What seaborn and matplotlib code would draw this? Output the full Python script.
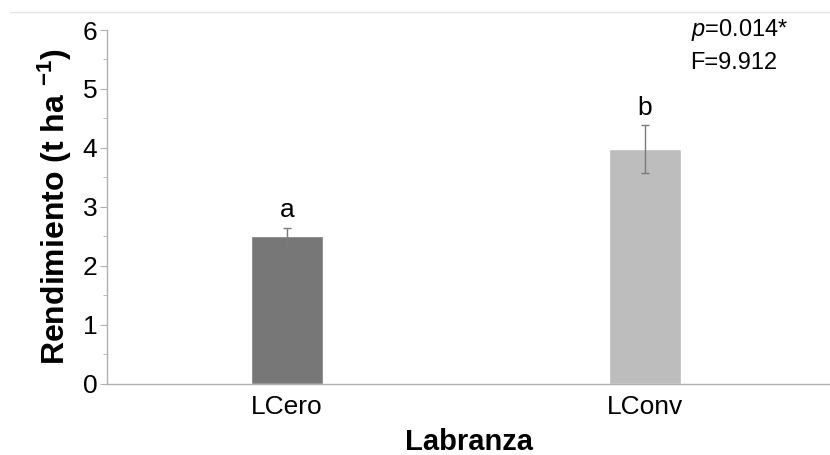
import matplotlib
matplotlib.use("Agg")
import matplotlib.pyplot as plt
import seaborn as sns
import pandas as pd
from matplotlib.ticker import MultipleLocator

categories = ["LCero", "LConv"]
means = [2.50, 3.98]
errors = [0.14, 0.40]
letters = ["a", "b"]
colors = ["#777777", "#bdbdbd"]

sns.set_style("white")
plt.rcParams["font.family"] = ["Liberation Sans", "DejaVu Sans"]
plt.rcParams["mathtext.fontset"] = "custom"
plt.rcParams["mathtext.rm"] = "Liberation Sans"
plt.rcParams["mathtext.it"] = "Liberation Sans:italic"
plt.rcParams["mathtext.bf"] = "Liberation Sans:bold"
plt.rcParams["text.color"] = "black"
plt.rcParams["axes.labelcolor"] = "black"
plt.rcParams["xtick.color"] = "black"
plt.rcParams["ytick.color"] = "black"

df = pd.DataFrame({"Labranza": categories, "Rendimiento": means})

fig = plt.figure(figsize=(8.30, 4.55), dpi=100)
ax = fig.add_axes([0.129, 0.157, 0.871, 0.777])

sns.barplot(data=df, x="Labranza", y="Rendimiento", hue="Labranza",
            palette=colors, width=0.2, legend=False, ax=ax, saturation=1)
ax.errorbar(range(len(categories)), means, yerr=errors, fmt="none",
            ecolor="#7a7a7a", elinewidth=1, capsize=3, capthick=1)

for i, (m, e, l) in enumerate(zip(means, errors, letters)):
    ax.text(i, m + e + 0.1, l, ha="center", va="bottom", fontsize=19)

ax.set_xlim(-0.503, 1.517)
ax.set_ylim(0, 6)
ax.yaxis.set_major_locator(MultipleLocator(1))
ax.yaxis.set_minor_locator(MultipleLocator(0.5))
ax.tick_params(axis="y", which="major", left=True, length=5, color="#b0b0b0",
               labelcolor="black", labelsize=19, pad=2)
ax.tick_params(axis="y", which="minor", left=True, length=3, color="#b0b0b0")
ax.tick_params(axis="x", bottom=False, labelsize=19, labelcolor="black", pad=5)

for s in ["top", "right"]:
    ax.spines[s].set_visible(False)
for s in ["left", "bottom"]:
    ax.spines[s].set_color("#b0b0b0")
    ax.spines[s].set_linewidth(1)

ax.set_xlabel("Labranza", fontsize=21, fontweight="bold", labelpad=6)
ax.set_ylabel(r"Rendimiento (t ha $^{\mathbf{-1}}$)", fontsize=23,
              fontweight="bold", labelpad=6)

fig.text(0.832, 0.935, r"$p$=0.014*", fontsize=17, ha="left", va="center")
fig.text(0.832, 0.862, "F=9.912", fontsize=17, ha="left", va="center")

fig.add_artist(plt.Line2D([0.012, 1.0], [0.973, 0.973], color="#e6e6e6", lw=1))

fig.savefig("out.png", dpi=100)
